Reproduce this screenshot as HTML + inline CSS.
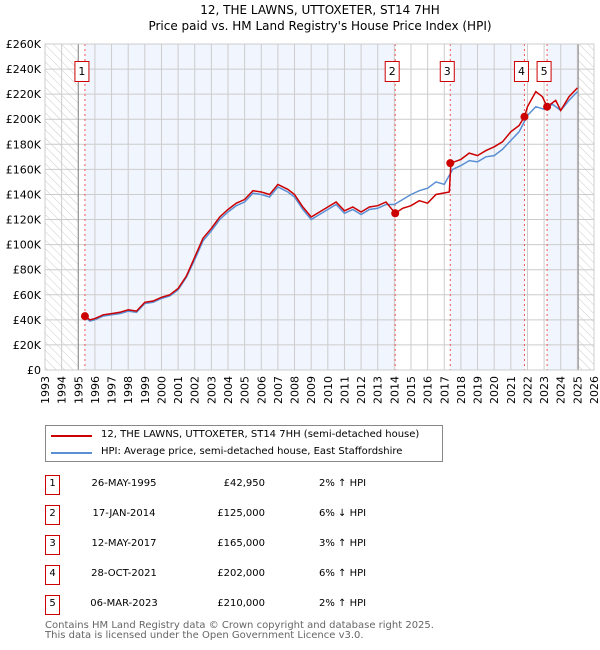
<!DOCTYPE html>
<html><head><meta charset="utf-8"><style>
body{margin:0;background:#fff;font-family:"Liberation Sans","DejaVu Sans",sans-serif;}
#wrap{position:relative;width:600px;height:650px;overflow:hidden}
svg text{font-family:"DejaVu Sans","Liberation Sans",sans-serif}
</style></head><body>
<div id="wrap">
<svg id="chart" width="600" height="650">
<defs><pattern id="hatch" width="6" height="6" patternUnits="userSpaceOnUse" patternTransform="rotate(-45)"><rect width="6" height="6" fill="#fff"/><line x1="0" y1="0" x2="0" y2="6" stroke="#ccc" stroke-width="1"/></pattern></defs>
<text x="320" y="14" text-anchor="middle" font-size="12">12, THE LAWNS, UTTOXETER, ST14 7HH</text>
<text x="320" y="30" text-anchor="middle" font-size="12">Price paid vs. HM Land Registry's House Price Index (HPI)</text>
<g id="plot"></g>
</svg>
<div style="position:absolute;left:45px;top:425px;width:396px;height:35px;border:1px solid #888;font-size:10px;font-family:'DejaVu Sans',sans-serif;white-space:nowrap">
<div style="position:absolute;left:5px;top:9px;width:41px;height:2px;background:#cc0000"></div>
<div style="position:absolute;left:55px;top:3px">12, THE LAWNS, UTTOXETER, ST14 7HH (semi-detached house)</div>
<div style="position:absolute;left:5px;top:26px;width:41px;height:2px;background:#5b8fd4"></div>
<div style="position:absolute;left:55px;top:20px">HPI: Average price, semi-detached house, East Staffordshire</div>
</div>
<div id="table" style="font-family:'DejaVu Sans',sans-serif;font-size:10px"></div>
<div style="position:absolute;left:45px;top:621px;font-size:10px;color:#666;line-height:10px;font-family:'DejaVu Sans',sans-serif;white-space:nowrap">Contains HM Land Registry data © Crown copyright and database right 2025.<br>This data is licensed under the Open Government Licence v3.0.</div>
</div>
<script>
const years=[1993,1994,1995,1996,1997,1998,1999,2000,2001,2002,2003,2004,2005,2006,2007,2008,2009,2010,2011,2012,2013,2014,2015,2016,2017,2018,2019,2020,2021,2022,2023,2024,2025,2026];
const yTicks=[0,20,40,60,80,100,120,140,160,180,200,220,240,260];
const priceT=[1995.4,1995.7,1996,1996.5,1997,1997.5,1998,1998.5,1999,1999.5,2000,2000.5,2001,2001.5,2002,2002.5,2003,2003.5,2004,2004.5,2005,2005.5,2006,2006.5,2007,2007.3,2007.6,2008,2008.5,2009,2009.5,2010,2010.5,2011,2011.5,2012,2012.5,2013,2013.5,2014.05,2014.5,2015,2015.5,2016,2016.5,2017.3,2017.4,2018,2018.5,2019,2019.5,2020,2020.5,2021,2021.5,2021.82,2022,2022.5,2022.9,2023.18,2023.7,2024,2024.5,2025];
const priceV=[43,40,41,44,45,46,48,47,54,55,58,60,65,75,90,105,113,122,128,133,136,143,142,140,148,146,144,140,130,122,126,130,134,127,130,126,130,131,134,125,129,131,135,133,140,142,165,168,173,171,175,178,182,190,195,202,210,222,218,210,215,207,218,225];
const hpiT=[1995.4,1995.7,1996,1996.5,1997,1997.5,1998,1998.5,1999,1999.5,2000,2000.5,2001,2001.5,2002,2002.5,2003,2003.5,2004,2004.5,2005,2005.5,2006,2006.5,2007,2007.3,2007.6,2008,2008.5,2009,2009.5,2010,2010.5,2011,2011.5,2012,2012.5,2013,2013.5,2014,2014.5,2015,2015.5,2016,2016.5,2017,2017.5,2018,2018.5,2019,2019.5,2020,2020.5,2021,2021.5,2022,2022.5,2023,2023.5,2024,2024.5,2025];
const hpiV=[42,39,40,43,44,45,47,46,53,54,57,59,64,74,88,103,111,120,126,131,134,141,140,138,146,144,142,138,128,120,124,128,132,125,128,124,128,129,132,132,136,140,143,145,150,148,160,163,167,166,170,171,176,183,190,203,210,208,212,207,215,222];
const saleT=[1995.4,2014.05,2017.36,2021.82,2023.18];
const saleV=[42.95,125,165,202,210];
const saleLabels=["1","2","3","4","5"];
const saleDates=["26-MAY-1995","17-JAN-2014","12-MAY-2017","28-OCT-2021","06-MAR-2023"];
const salePrices=["£42,950","£125,000","£165,000","£202,000","£210,000"];
const saleHpi=["2% ↑ HPI","6% ↓ HPI","3% ↑ HPI","6% ↑ HPI","2% ↑ HPI"];

const L=45,R=594,T=44,B=370;
const X=t=>L+(t-1993)/(2026-1993)*(R-L);
const Y=v=>B-v/260*(B-T);
const ns="http://www.w3.org/2000/svg";
const g=document.getElementById('plot');
function mk(tag,attrs,parent){const e=document.createElementNS(ns,tag);for(const k in attrs)e.setAttribute(k,attrs[k]);(parent||g).appendChild(e);return e;}
let e;
e=mk('rect',{x:L,y:T,width:R-L,height:B-T,fill:'#fff'});


const bands=[[saleT[0],saleT[1]],[saleT[2],saleT[3]],[saleT[4],2025.05]];
bands.forEach(b=>{e=mk('rect',{x:X(b[0]),y:T,width:X(b[1])-X(b[0]),height:B-T,fill:'#eef3fc',opacity:0.8});

});
e=mk('rect',{x:L,y:T,width:X(1995)-L,height:B-T,fill:'url(#hatch)'});


e=mk('rect',{x:X(2025.05),y:T,width:R-X(2025.05),height:B-T,fill:'url(#hatch)'});


years.forEach(y=>{e=mk('line',{x1:X(y),x2:X(y),y1:T,y2:B,stroke:'#ccc','stroke-width':1});


e=mk('text',{x:X(y)+4,y:B+6,'font-size':11,'text-anchor':'end',transform:`rotate(-90 ${X(y)+4} ${B+6})`});
e.textContent=y;

});
yTicks.forEach(v=>{e=mk('line',{x1:L,x2:R,y1:Y(v),y2:Y(v),stroke:'#ccc','stroke-width':1});


e=mk('text',{x:L-4,y:Y(v)+4,'font-size':11,'text-anchor':'end'});
e.textContent=v===0?'£0':'£'+v+'K';

});
e=mk('line',{x1:X(1995),x2:X(1995),y1:T,y2:B,stroke:'#888','stroke-width':1});


e=mk('line',{x1:X(2025.05),x2:X(2025.05),y1:T,y2:B,stroke:'#888','stroke-width':1});


saleT.forEach((t,i)=>{e=mk('line',{x1:X(t),x2:X(t),y1:T,y2:B,stroke:'#e55','stroke-width':1,'stroke-dasharray':'2,3'});

});
const pts=(ts,vs)=>ts.map((t,i)=>X(t).toFixed(1)+','+Y(vs[i]).toFixed(1)).join(' ');
e=mk('polyline',{points:pts(hpiT,hpiV),fill:'none',stroke:'#5b8fd4','stroke-width':1.5});


e=mk('polyline',{points:pts(priceT,priceV),fill:'none',stroke:'#cc0000','stroke-width':1.5});


saleT.forEach((t,i)=>{e=mk('circle',{cx:X(t),cy:Y(saleV[i]),r:4,fill:'#cc0000'});


e=mk('rect',{x:X(t)-10,y:61.5,width:14,height:20,fill:'#fff',stroke:'#cc0000'});


e=mk('text',{x:X(t)-3,y:75,'font-size':11,'text-anchor':'middle'});
e.textContent=saleLabels[i];

});
e=mk('rect',{x:L,y:T,width:R-L,height:B-T,fill:'none',stroke:'#ccc'});


const tb=document.getElementById('table');
saleLabels.forEach((s,i)=>{const top=475+i*30;
const row=document.createElement('div');


row.style.cssText=`position:absolute;left:0;top:${top}px;width:600px;height:20px`;
row.innerHTML=`<div style="position:absolute;left:45px;top:0;width:13px;height:18px;border:1px solid #cc0000;text-align:center;line-height:16px">${s}</div>
<div style="position:absolute;left:84px;width:80px;text-align:center;top:3px">${saleDates[i]}</div>
<div style="position:absolute;left:185px;width:80px;text-align:right;top:3px">${salePrices[i]}</div>
<div style="position:absolute;left:319px;top:3px">${saleHpi[i]}</div>`;
tb.appendChild(row);});
</script>
</body></html>
